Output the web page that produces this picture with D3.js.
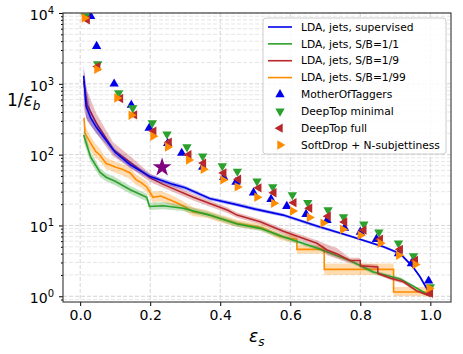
<!DOCTYPE html>
<html>
<head>
<meta charset="utf-8">
<script src="https://cdn.jsdelivr.net/npm/d3@7"></script>
<style>
  body { margin: 0; background: #fff; }
  text { font-family: "DejaVu Sans", sans-serif; fill: #000; }
</style>
</head>
<body>
<svg id="chart" width="463" height="354"></svg>
<script>
// ---- curves: [eps_s, 1/eps_b, band low, band high] ----
var ldaSupervised = [
  [0.010, 1300, 700, 1800], [0.017, 480, 330, 900], [0.030, 330, 260, 420],
  [0.046, 245, 200, 290], [0.074, 160, 140, 180], [0.100, 108, 96, 120],
  [0.143, 72, 65, 80], [0.200, 49, 45, 53], [0.266, 38, 35, 41],
  [0.300, 34, 31.5, 36.5], [0.370, 24, 22.5, 25.5], [0.440, 20, 19, 21.5],
  [0.500, 17, 16, 18], [0.580, 14, 13.3, 14.8], [0.676, 9.8, 9.3, 10.3],
  [0.770, 7.1, 6.8, 7.4], [0.866, 5.0, 4.8, 5.2], [0.914, 4.0, 3.8, 4.2],
  [0.950, 2.6, 2.5, 2.75], [0.970, 1.9, 1.8, 2.0], [1.000, 1.05, 1.0, 1.1]
];
var ldaSB1 = [
  [0.010, 190, 150, 240], [0.030, 92, 78, 110], [0.057, 56, 48, 64],
  [0.074, 48, 42, 55], [0.100, 42, 37, 48], [0.143, 32, 28, 36],
  [0.190, 25, 22, 28], [0.198, 18.5, 16.5, 21], [0.237, 19, 17, 21.5],
  [0.294, 17.5, 16, 19.5], [0.370, 14, 12.8, 15.4], [0.448, 10.5, 9.6, 11.5],
  [0.514, 9.1, 8.4, 9.8], [0.580, 6.9, 6.4, 7.4], [0.676, 4.8, 4.5, 5.1],
  [0.770, 3.2, 3.0, 3.4], [0.837, 2.2, 2.05, 2.35], [0.914, 1.75, 1.65, 1.85],
  [0.950, 1.4, 1.33, 1.47], [1.000, 1.0, 0.97, 1.05]
];
var ldaSB9 = [
  [0.010, 1100, 450, 1600], [0.020, 500, 300, 800], [0.046, 280, 200, 380],
  [0.094, 118, 95, 150], [0.143, 78, 65, 95], [0.200, 47, 41, 54],
  [0.237, 38, 34, 43], [0.323, 25, 22.5, 27.5], [0.420, 16.5, 15, 18],
  [0.448, 14, 12.8, 15.2], [0.514, 11.3, 10.4, 12.2], [0.580, 8.3, 7.6, 9],
  [0.676, 5.6, 5, 6.2], [0.705, 4.5, 3.8, 5.4], [0.733, 4.0, 3.4, 4.8],
  [0.770, 3.2, 2.9, 3.5], [0.800, 3.2, 2.9, 3.5], [0.800, 2.7, 2.5, 2.9],
  [0.850, 2.6, 2.4, 2.8], [0.850, 2.1, 2.0, 2.2], [0.886, 1.8, 1.7, 1.9],
  [0.923, 1.6, 1.5, 1.7], [0.960, 1.2, 1.15, 1.25], [1.000, 1.0, 0.97, 1.03]
];
var ldaSB99 = [
  [0.011, 330, 250, 400], [0.014, 200, 150, 260], [0.025, 160, 125, 200],
  [0.037, 127, 100, 160], [0.045, 110, 90, 140], [0.057, 98, 80, 120],
  [0.074, 75, 62, 90], [0.085, 72, 60, 86], [0.100, 67, 55, 80],
  [0.120, 62, 51, 74], [0.143, 55, 45, 66], [0.160, 44, 37, 52],
  [0.175, 40, 34, 47], [0.190, 35, 29, 42], [0.208, 25, 21, 30],
  [0.230, 26, 22, 31], [0.266, 22, 19, 26], [0.294, 19, 16.5, 22],
  [0.323, 15.5, 13.5, 18], [0.360, 14.5, 12.8, 16.5], [0.390, 13, 11.5, 14.8],
  [0.448, 10.7, 9.5, 12], [0.520, 9.3, 8.4, 10.4], [0.571, 7, 6.3, 7.8],
  [0.600, 6.6, 5.8, 7.4], [0.619, 6.4, 5.6, 7.2], [0.619, 4.6, 4.0, 5.3],
  [0.697, 4.6, 4.0, 5.3], [0.697, 2.4, 2.0, 2.9], [0.895, 2.4, 2.0, 2.9],
  [0.895, 1.15, 1.0, 1.35], [1.000, 1.15, 1.0, 1.35]
];

// ---- other taggers: [eps_s, 1/eps_b] ----
var motherOfTaggers = [
  [0.030, 9000], [0.047, 3400], [0.097, 1000], [0.146, 500], [0.197, 237],
  [0.250, 145], [0.290, 105], [0.350, 67], [0.410, 48], [0.445, 41],
  [0.495, 29], [0.545, 23.5], [0.590, 18.7], [0.645, 14.4], [0.705, 11.8],
  [0.755, 9.2], [0.800, 8.1], [0.846, 6.4], [0.909, 4.0], [0.946, 2.9],
  [0.995, 1.65]
];
var deepTopMinimal = [
  [0.015, 9000], [0.050, 1900], [0.110, 740], [0.150, 455], [0.206, 280],
  [0.248, 195], [0.305, 128], [0.350, 95], [0.406, 69], [0.449, 58],
  [0.505, 42], [0.550, 35], [0.606, 27], [0.650, 21], [0.708, 16.5],
  [0.752, 13.2], [0.810, 10.4], [0.853, 8.0], [0.909, 5.6], [0.952, 3.7],
  [1.000, 1.35]
];
var deepTopFull = [
  [0.020, 8000], [0.050, 1750], [0.115, 620], [0.155, 365], [0.210, 215],
  [0.254, 150], [0.310, 100], [0.352, 76], [0.410, 55], [0.452, 45],
  [0.510, 34], [0.553, 29], [0.610, 21], [0.655, 17.5], [0.708, 13.5],
  [0.755, 11.2], [0.810, 8.6], [0.857, 6.4], [0.914, 4.6], [0.957, 3.2],
  [1.000, 1.1]
];
var softDropNsub = [
  [0.012, 8500], [0.048, 1600], [0.105, 630], [0.146, 360], [0.208, 182],
  [0.250, 128], [0.310, 84], [0.352, 62], [0.408, 44], [0.449, 35],
  [0.505, 25], [0.553, 20.6], [0.607, 16], [0.655, 13], [0.694, 10.8],
  [0.750, 8.8], [0.800, 7.3], [0.857, 5.6], [0.910, 3.8], [0.957, 2.8],
  [0.997, 1.3]
];
var starPoint = [[0.234, 66]];

var xTicks = [0, 0.2, 0.4, 0.6, 0.8, 1.0];
var yMajor = [1, 10, 100, 1000, 10000];

var curveNames = ["LDA, jets, supervised", "LDA, jets, S/B=1/1", "LDA, jets, S/B=1/9", "LDA, jets. S/B=1/99"];
var markerNames = ["MotherOfTaggers", "DeepTop minimal", "DeepTop full", "SoftDrop + N-subjettiness"];

var blue = "#0000e8", green = "#2ca02c", red = "#b8282a", orange = "#ff8c00";

var svg = d3.select("#chart");
var plotL = 63, plotR = 451, plotT = 13, plotB = 302;

var x = d3.scaleLinear().domain([-0.049, 1.059]).range([plotL, plotR]);
var y = d3.scaleLog().domain([0.83, 1e4]).range([plotB, plotT]);

svg.append("defs").append("clipPath").attr("id", "clip")
  .append("rect").attr("x", plotL).attr("y", plotT)
  .attr("width", plotR - plotL).attr("height", plotB - plotT);

// Grid lines
var allY = y.ticks();
var minorY = allY.filter(function(d) { return yMajor.indexOf(d) < 0; });
var grid = svg.append("g");
grid.selectAll(".ym").data(minorY).enter().append("line")
  .attr("x1", plotL).attr("x2", plotR)
  .attr("y1", function(d) { return y(d); }).attr("y2", function(d) { return y(d); })
  .style("stroke", "#e0e0e0").style("stroke-dasharray", "4,2").style("stroke-width", 0.8);
grid.selectAll(".yM").data(yMajor).enter().append("line")
  .attr("x1", plotL).attr("x2", plotR)
  .attr("y1", function(d) { return y(d); }).attr("y2", function(d) { return y(d); })
  .style("stroke", "#d0d0d0").style("stroke-dasharray", "4,2").style("stroke-width", 0.9);
grid.selectAll(".xM").data(xTicks).enter().append("line")
  .attr("y1", plotT).attr("y2", plotB)
  .attr("x1", function(d) { return x(d); }).attr("x2", function(d) { return x(d); })
  .style("stroke", "#d0d0d0").style("stroke-dasharray", "4,2").style("stroke-width", 0.9);

var plot = svg.append("g").attr("clip-path", "url(#clip)");

function drawCurve(data, color) {
  var area = d3.area()
    .x(function(d) { return x(d[0]); })
    .y0(function(d) { return y(d[2]); })
    .y1(function(d) { return y(d[3]); });
  var line = d3.line()
    .x(function(d) { return x(d[0]); })
    .y(function(d) { return y(d[1]); });
  plot.append("path").datum(data).attr("d", area)
    .style("fill", color).style("fill-opacity", 0.3).style("stroke", "none");
  plot.append("path").datum(data).attr("d", line)
    .style("fill", "none").style("stroke", color).style("stroke-width", 1.6);
}

drawCurve(ldaSB99, orange);
drawCurve(ldaSB1, green);
drawCurve(ldaSB9, red);
drawCurve(ldaSupervised, blue);

// Markers
var triSize = 38;
function drawMarkers(data, color, rot) {
  plot.selectAll(null).data(data).enter().append("path")
    .attr("d", d3.symbol().type(d3.symbolTriangle).size(triSize))
    .attr("transform", function(d) { return "translate(" + x(d[0]) + "," + y(d[1]) + ") rotate(" + rot + ")"; })
    .style("fill", color);
}
drawMarkers(motherOfTaggers, blue, 0);
drawMarkers(deepTopMinimal, green, 180);
drawMarkers(deepTopFull, red, -90);
drawMarkers(softDropNsub, orange, 90);

plot.selectAll(null).data(starPoint).enter().append("path")
  .attr("d", d3.symbol().type(d3.symbolStar).size(110))
  .attr("transform", function(d) { return "translate(" + x(d[0]) + "," + y(d[1]) + ")"; })
  .style("fill", "#800080");

// Axes
var xAxis = svg.append("g").attr("transform", "translate(0," + plotB + ")")
  .call(d3.axisBottom(x).tickValues(xTicks).tickFormat(d3.format(".1f")).tickSize(4).tickPadding(4));
xAxis.select(".domain").remove();
xAxis.selectAll("text").style("font-size", "14px");

var yMinorAxis = svg.append("g").attr("transform", "translate(" + plotL + ",0)")
  .call(d3.axisLeft(y).tickValues(minorY).tickFormat("").tickSize(2));
yMinorAxis.select(".domain").remove();

var yAxis = svg.append("g").attr("transform", "translate(" + plotL + ",0)")
  .call(d3.axisLeft(y).tickValues(yMajor).tickSize(4).tickPadding(5));
yAxis.select(".domain").remove();
yAxis.selectAll(".tick text").text(null).attr("dy", "0.45em").style("font-size", "14px")
  .each(function(d) {
    var t = d3.select(this);
    t.append("tspan").text("10");
    t.append("tspan").attr("dy", "-0.6em").style("font-size", "10px").text(Math.round(Math.log10(d)));
  });

// Frame
svg.append("rect").attr("x", plotL).attr("y", plotT)
  .attr("width", plotR - plotL).attr("height", plotB - plotT)
  .style("fill", "none").style("stroke", "#333").style("stroke-width", 1.1);

// Axis labels (math style: italic epsilon)
var yl = svg.append("text").attr("x", 7).attr("y", 106).style("font-size", "17px");
yl.append("tspan").text("1/");
yl.append("tspan").style("font-style", "italic").text("\u03b5");
yl.append("tspan").attr("dy", "0.3em").style("font-size", "12px").style("font-style", "italic").text("b");
var xl = svg.append("text").attr("x", 249).attr("y", 342).style("font-size", "17px").style("font-style", "italic");
xl.append("tspan").text("\u03b5");
xl.append("tspan").attr("dy", "0.3em").style("font-size", "12px").text("s");

// Legend
var lg = svg.append("g");
lg.append("rect").attr("x", 263).attr("y", 18).attr("width", 183).attr("height", 136).attr("rx", 3)
  .style("fill", "#fff").style("fill-opacity", 0.85).style("stroke", "#ccc");
var rowY = d3.scalePoint().domain(d3.range(8)).range([27, 145]);
var curveColors = [blue, green, red, orange];
curveNames.forEach(function(name, i) {
  lg.append("line").attr("x1", 268).attr("x2", 292)
    .attr("y1", rowY(i)).attr("y2", rowY(i))
    .style("stroke", curveColors[i]).style("stroke-width", 1.6);
  lg.append("text").attr("x", 301).attr("y", rowY(i)).attr("dy", "0.35em")
    .style("font-size", "10.7px").text(name);
});
var markerRot = [0, 180, -90, 90];
markerNames.forEach(function(name, i) {
  var r = rowY(i + 4);
  lg.append("path").attr("d", d3.symbol().type(d3.symbolTriangle).size(triSize))
    .attr("transform", "translate(280," + r + ") rotate(" + markerRot[i] + ")")
    .style("fill", curveColors[i]);
  lg.append("text").attr("x", 301).attr("y", r).attr("dy", "0.35em")
    .style("font-size", "10.7px").text(name);
});
</script>
</body>
</html>
